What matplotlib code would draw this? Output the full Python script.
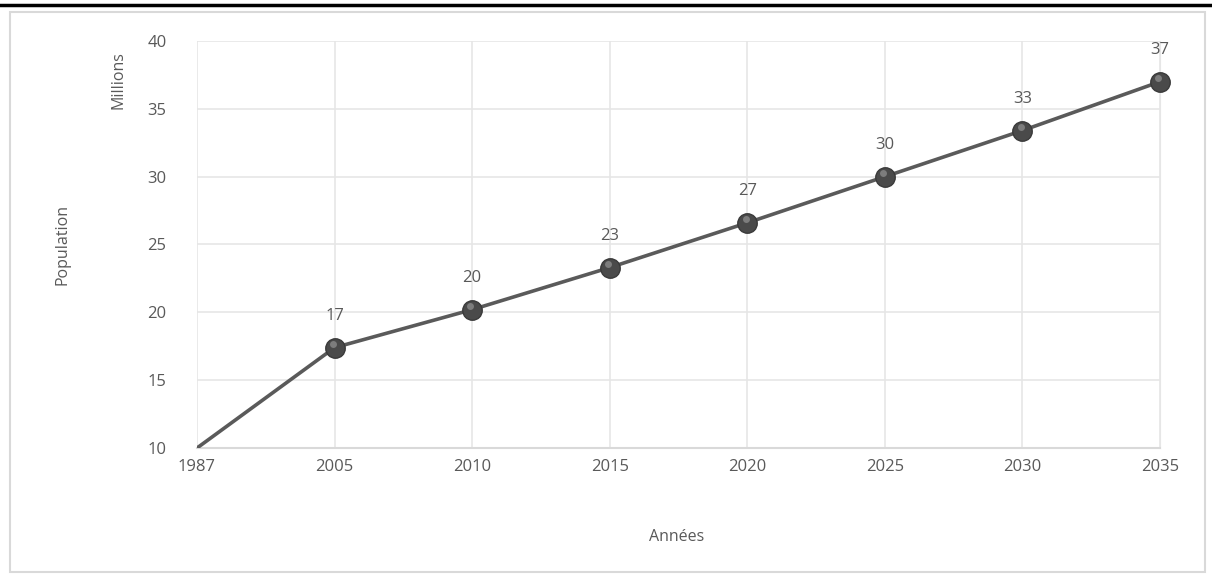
import matplotlib.pyplot as plt
from matplotlib.patches import Rectangle
from matplotlib.lines import Line2D
import numpy as np

# population data (millions)
years = ["1987", "2005", "2010", "2015", "2020", "2025", "2030", "2035"]
population = [10.0, 17.4, 20.2, 23.3, 26.6, 30.0, 33.4, 37.0]

plt.rcParams['font.family'] = ['Open Sans', 'DejaVu Sans']
txt = '#595959'

fig = plt.figure(figsize=(12.12, 5.78), dpi=100)
W, H = 1212, 578

# black rule on top and light chart frame
fig.add_artist(Line2D([0, 1], [1 - 5 / H, 1 - 5 / H], color='black', lw=2.5,
                      transform=fig.transFigure))
fig.add_artist(Rectangle((10 / W, 6 / H), 1195 / W, 560 / H, fill=False,
                         edgecolor='#d9d9d9', lw=1.5, transform=fig.transFigure))

ax = fig.add_axes([197 / W, 1 - 448 / H, (1160 - 197) / W, (448 - 41) / H])
x = np.arange(len(years))

ax.plot(x, population, color='#5a5a5a', lw=2.6, zorder=3, solid_capstyle='butt')
ax.plot(x[1:], population[1:], 'o', ms=14, color='#4a4a4a', mec='#3a3a3a',
        zorder=4, clip_on=False)
ax.plot(x[1:] - 0.012, np.array(population[1:]) + 0.25, 'o', ms=5,
        color='#8a8a8a', mec='none', alpha=0.8, zorder=5, clip_on=False)

for xi, v in zip(x[1:], population[1:]):
    ax.annotate(f"{v:.0f}", (xi, v), xytext=(0, 17), textcoords='offset points',
                ha='center', va='bottom', fontsize=12, color=txt)

ax.set_xlim(0, len(years) - 1)
ax.set_ylim(10, 40)
ax.set_yticks(range(10, 41, 5))
ax.set_xticks(x)
ax.set_xticklabels(years)
ax.grid(True, color='#e6e6e6', lw=1.2)
ax.set_axisbelow(True)
for s in ['top', 'left']:
    ax.spines[s].set_visible(False)
ax.spines['right'].set_color('#e6e6e6')
ax.spines['bottom'].set_color('#d9d9d9')
ax.spines['bottom'].set_linewidth(1.5)
ax.tick_params(length=0, labelsize=12, colors=txt)
ax.tick_params(axis='x', pad=8)
ax.tick_params(axis='y', pad=22)

fig.text(118 / W, 1 - 80 / H, "Millions", rotation=90, ha='center', va='center',
         fontsize=11.5, color=txt)
fig.text(62 / W, 1 - 245 / H, "Population", rotation=90, ha='center', va='center',
         fontsize=11.5, color=txt)
fig.text(677 / W, 1 - 537 / H, "Années", ha='center', va='center',
         fontsize=11.5, color=txt)

fig.savefig("out.png", dpi=100)
